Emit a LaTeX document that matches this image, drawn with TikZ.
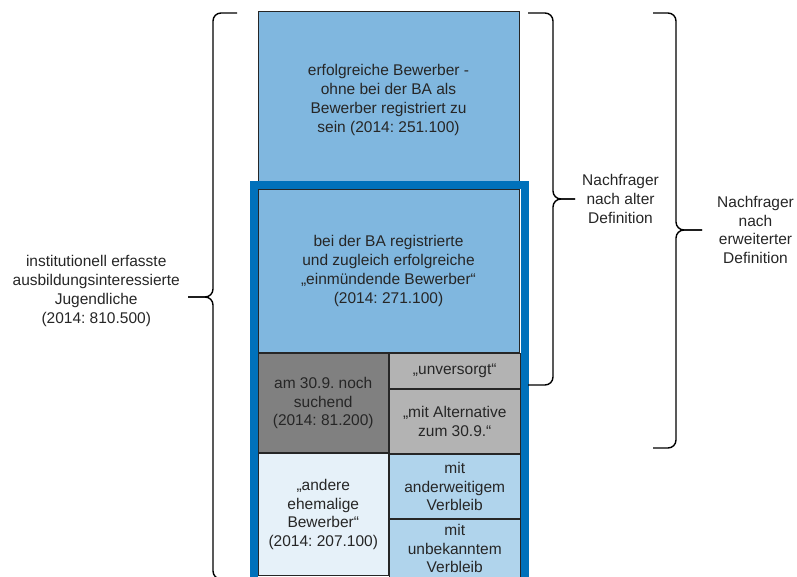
\documentclass[tikz,border=0pt]{standalone}
\usepackage{fontspec}
\setmainfont{Liberation Sans}
\usetikzlibrary{positioning, fit}
\frenchspacing

\definecolor{hellblau}{RGB}{128,183,223}
\definecolor{rahmenblau}{RGB}{0,113,187}
\definecolor{dunkelgrau}{RGB}{128,128,128}
\definecolor{mittelgrau}{RGB}{179,179,179}
\definecolor{blassblau}{RGB}{230,241,249}
\definecolor{mittelblau}{RGB}{176,212,236}

\begin{document}
\begin{tikzpicture}[
    x=1pt, y=-1pt,
    node distance=0pt,
    feld/.style={rectangle, draw=black!85, line width=1pt, align=center, inner sep=0pt,
                 text=black!85, font=\fontsize{15.5}{18.7}\selectfont},
    beschriftung/.style={align=center, inner sep=2pt, text=black!85,
                 font=\fontsize{15.5}{18.7}\selectfont},
    rahmen/.style={rectangle, draw=rahmenblau, line width=8pt, inner sep=4pt},
    klammer/.style={draw=black, line width=1.4pt, rounded corners=8pt}
]
    \useasboundingbox (0,0) rectangle (797,577);

    \node[feld, fill=hellblau, minimum width=261pt, minimum height=177pt, anchor=north west] (erfolgreich) at (257.5,11)
        {erfolgreiche Bewerber -\\ohne bei der BA als\\Bewerber registriert zu\\sein (2014: 251.100)};
    \node[feld, fill=hellblau, minimum width=261pt, minimum height=163pt, below=of erfolgreich] (einmuendend)
        {bei der BA registrierte\\und zugleich erfolgreiche\\„einmündende Bewerber“\\(2014: 271.100)};

    \node[feld, fill=dunkelgrau, minimum width=130.5pt, minimum height=99pt, below right=0pt and 0pt of einmuendend.south west] (suchend)
        {am 30.9. noch\\suchend\\(2014: 81.200)};
    \node[feld, fill=mittelgrau, minimum width=130.5pt, minimum height=35pt, below right=0pt and 0pt of suchend.north east] (unversorgt)
        {„unversorgt“};
    \node[feld, fill=mittelgrau, minimum width=130.5pt, minimum height=64pt, below=of unversorgt] (alternative)
        {„mit Alternative\\zum 30.9.“};

    \node[feld, fill=blassblau, minimum width=130.5pt, minimum height=122pt, below=of suchend] (andere)
        {„andere\\ehemalige\\Bewerber“\\(2014: 207.100)};
    \node[feld, fill=mittelblau, minimum width=130.5pt, minimum height=64pt, below=of alternative] (anderweitig)
        {mit\\anderweitigem\\Verbleib};
    \node[feld, fill=mittelblau, minimum width=130.5pt, minimum height=58pt, below=of anderweitig] (unbekannt)
        {mit\\unbekanntem\\Verbleib};

    \node[rahmen, fit=(einmuendend)(unbekannt)] (registriert) {};

    \coordinate (spitzeLinks) at (188,297);
    \coordinate (spitzeAlt) at (575,199);
    \coordinate (spitzeErweitert) at (702,230);

    \draw[klammer] (237,13) -- (213,13) -- (213,297) -- (spitzeLinks);
    \draw[klammer] (spitzeLinks) -- (213,297) -- (213,579) -- (237,579);

    \draw[klammer] (528,13) -- (553,13) -- (553,199) -- (spitzeAlt);
    \draw[klammer] (spitzeAlt) -- (553,199) -- (553,385) -- (528,385);

    \draw[klammer] (653,13) -- (676,13) -- (676,230) -- (spitzeErweitert);
    \draw[klammer] (spitzeErweitert) -- (676,230) -- (676,448) -- (653,448);

    \node[beschriftung, left=6pt of spitzeLinks, yshift=6pt] (jugendliche)
        {institutionell erfasste\\ausbildungsinteressierte\\Jugendliche\\(2014: 810.500)};
    \node[beschriftung, right=5pt of spitzeAlt] (nachfragerAlt)
        {Nachfrager\\nach alter\\Definition};
    \node[beschriftung, right=13pt of spitzeErweitert] (nachfragerErweitert)
        {Nachfrager\\nach\\erweiterter\\Definition};

\end{tikzpicture}
\end{document}
